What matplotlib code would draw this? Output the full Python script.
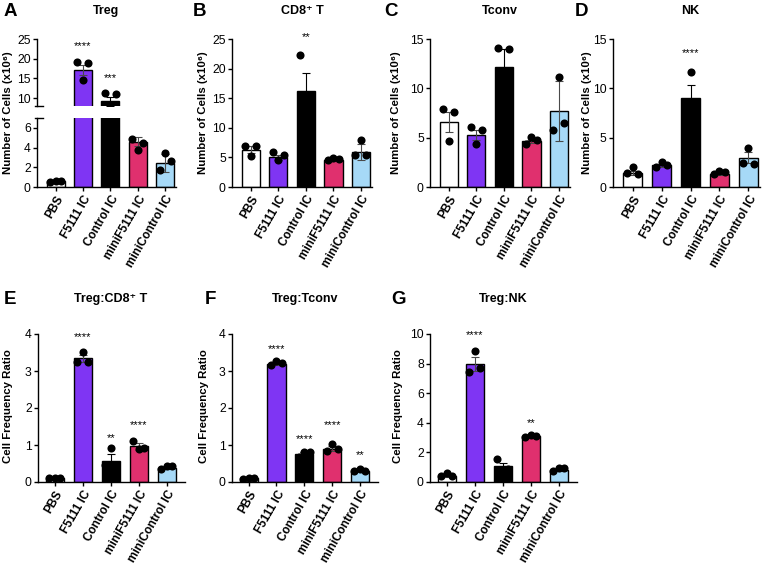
import numpy as np
import matplotlib
matplotlib.use("Agg")
import matplotlib.pyplot as plt
from matplotlib.lines import Line2D

plt.rcParams['font.family'] = ['Liberation Sans', 'DejaVu Sans']

groups = ["PBS", "F5111 IC", "Control IC", "miniF5111 IC", "miniControl IC"]
bar_colors = ["#ffffff", "#7f35f3", "#000000", "#e0306e", "#a6d9f7"]

# values: bar = mean, err = SEM, pts = individual mice
treg_mean = [0.6, 17.2, 9.2, 4.6, 2.4]
treg_err = [0.05, 1.3, 1.1, 0.45, 0.9]
treg_pts = [[0.5, 0.65, 0.6], [19.2, 19.0, 14.5], [11.3, 11.0, 5.3], [4.9, 4.5, 3.8], [1.7, 2.65, 3.4]]

cd8_mean = [6.3, 5.0, 16.3, 4.5, 5.9]
cd8_err = [0.55, 0.4, 3.0, 0.15, 1.4]
cd8_pts = [[7.0, 7.0, 5.3], [5.9, 5.4, 4.6], [22.3, 14.0, 12.6], [4.5, 4.7, 4.9], [5.4, 5.4, 8.0]]

tconv_mean = [6.6, 5.3, 12.2, 4.65, 7.7]
tconv_err = [1.0, 0.5, 1.8, 0.15, 3.0]
tconv_pts = [[7.9, 7.6, 4.7], [6.1, 5.8, 4.4], [14.1, 14.0, 8.5], [4.4, 4.8, 5.1], [5.8, 6.45, 11.1]]

nk_mean = [1.42, 2.2, 9.0, 1.35, 2.97]
nk_err = [0.2, 0.15, 1.35, 0.1, 0.55]
nk_pts = [[1.4, 1.35, 2.0], [2.0, 2.2, 2.5], [7.6, 7.8, 11.7], [1.3, 1.5, 1.6], [2.4, 2.35, 3.97]]

cd8_ratio_mean = [0.11, 3.34, 0.58, 0.96, 0.38]
cd8_ratio_err = [0.01, 0.1, 0.17, 0.1, 0.03]
cd8_ratio_pts = [[0.1, 0.12, 0.12], [3.25, 3.25, 3.52], [0.45, 0.37, 0.92], [1.1, 0.93, 0.9], [0.35, 0.42, 0.44]]

tconv_ratio_mean = [0.1, 3.2, 0.76, 0.9, 0.31]
tconv_ratio_err = [0.01, 0.03, 0.04, 0.06, 0.02]
tconv_ratio_pts = [[0.09, 0.1, 0.11], [3.17, 3.22, 3.26], [0.68, 0.8, 0.82], [0.85, 0.88, 1.02], [0.29, 0.31, 0.34]]

nk_ratio_mean = [0.43, 7.95, 1.06, 3.08, 0.83]
nk_ratio_err = [0.06, 0.48, 0.24, 0.03, 0.07]
nk_ratio_pts = [[0.4, 0.42, 0.58], [7.46, 7.7, 8.85], [1.55, 0.85, 0.78], [3.05, 3.12, 3.15], [0.72, 0.94, 0.94]]

W, H = 768, 565
fig = plt.figure(figsize=(W / 100, H / 100), dpi=100)
offsets = [-0.2, 0.2, 0.0]
x = np.arange(len(groups))


def px_axes(l, r, t, b):
    return fig.add_axes([l / W, 1 - b / H, (r - l) / W, (b - t) / H])


def style(ax, xl):
    for s in ["top", "right"]:
        ax.spines[s].set_visible(False)
    for s in ["left", "bottom"]:
        ax.spines[s].set_linewidth(1.0)
    ax.tick_params(direction="out", length=3, width=1.0, labelsize=8.7, pad=1.5)
    ax.set_xlim(*xl)
    ax.set_xticks(x)
    ax.set_xticklabels(groups, rotation=60, ha="right", rotation_mode="anchor",
                       fontweight="bold", fontsize=8.5)


def draw(ax, mean, err, pts):
    ax.bar(x, mean, width=0.66, color=bar_colors, edgecolor="black", linewidth=1.0, zorder=2)
    for i in range(len(groups)):
        ec = "black" if bar_colors[i] == "#000000" else "#4a4a4a"
        ax.errorbar(x[i], mean[i], yerr=err[i], fmt="none", ecolor=ec,
                    elinewidth=0.8, capsize=3.2, capthick=0.8, zorder=3)
        ax.scatter(x[i] + np.array(offsets), pts[i], s=34, color="black", zorder=4, linewidths=0)


def stars(ax, marks):
    for i, yv, s in marks:
        ax.text(i, yv, s, ha="center", va="center", fontsize=8)


def label(xp, yp, s):
    fig.text(xp / W, 1 - yp / H, s, rotation=90, ha="center", va="center",
             fontweight="bold", fontsize=8.2)


def title(xp, yp, s, letter, lx):
    fig.text(xp / W, 1 - yp / H, s, ha="center", va="center", fontweight="bold", fontsize=9)
    fig.text(lx / W, 1 - yp / H, letter, ha="center", va="center", fontweight="bold", fontsize=13.5)


top_xl = (-0.68, 4.4)
bot_xl = (-0.6, 4.65)

# A - broken axis
axA_hi = px_axes(37, 176, 39, 106)
axA_lo = px_axes(37, 176, 118, 187)
for ax in (axA_hi, axA_lo):
    style(ax, top_xl)
    draw(ax, treg_mean, treg_err, treg_pts)
axA_hi.set_ylim(8, 25)
axA_hi.set_yticks([10, 15, 20, 25])
axA_hi.spines["bottom"].set_visible(False)
axA_hi.tick_params(axis="x", bottom=False, labelbottom=False)
axA_lo.set_ylim(0, 7)
axA_lo.set_yticks([0, 2, 4, 6])
stars(axA_hi, [(1, 23.3, "****"), (2, 15.0, "***")])
for yp in (106, 118):
    fig.add_artist(Line2D([35 / W, 43 / W], [1 - yp / H, 1 - yp / H], color="black", lw=1.0))
label(8, 113, "Number of Cells (x10⁶)")
title(106, 11, "Treg", "A", 10)

# B
axB = px_axes(232, 372, 39, 187)
style(axB, top_xl)
draw(axB, cd8_mean, cd8_err, cd8_pts)
axB.set_ylim(0, 25)
axB.set_yticks([0, 5, 10, 15, 20, 25])
stars(axB, [(2, 25.3, "**")])
label(203, 113, "Number of Cells (x10⁶)")
title(302, 11, "CD8⁺ T", "B", 199)

# C
axC = px_axes(430, 570, 39, 187)
style(axC, top_xl)
draw(axC, tconv_mean, tconv_err, tconv_pts)
axC.set_ylim(0, 15)
axC.set_yticks([0, 5, 10, 15])
label(396, 113, "Number of Cells (x10⁶)")
title(500, 11, "Tconv", "C", 391)

# D
axD = px_axes(613, 760, 39, 187)
style(axD, top_xl)
draw(axD, nk_mean, nk_err, nk_pts)
axD.set_ylim(0, 15)
axD.set_yticks([0, 5, 10, 15])
stars(axD, [(2, 13.6, "****")])
label(587, 113, "Number of Cells (x10⁶)")
title(690, 11, "NK", "D", 581)

# E
axE = px_axes(38, 185, 334, 482)
style(axE, bot_xl)
draw(axE, cd8_ratio_mean, cd8_ratio_err, cd8_ratio_pts)
axE.set_ylim(0, 4)
axE.set_yticks([0, 1, 2, 3, 4])
stars(axE, [(1, 3.93, "****"), (2, 1.2, "**"), (3, 1.55, "****")])
label(8, 406, "Cell Frequency Ratio")
title(111, 299, "Treg:CD8⁺ T", "E", 10)

# F
axF = px_axes(232, 378, 334, 482)
style(axF, bot_xl)
draw(axF, tconv_ratio_mean, tconv_ratio_err, tconv_ratio_pts)
axF.set_ylim(0, 4)
axF.set_yticks([0, 1, 2, 3, 4])
stars(axF, [(1, 3.6, "****"), (2, 1.15, "****"), (3, 1.53, "****"), (4, 0.72, "**")])
label(204, 406, "Cell Frequency Ratio")
title(305, 299, "Treg:Tconv", "F", 210)

# G
axG = px_axes(430, 577, 334, 482)
style(axG, bot_xl)
draw(axG, nk_ratio_mean, nk_ratio_err, nk_ratio_pts)
axG.set_ylim(0, 10)
axG.set_yticks([0, 2, 4, 6, 8, 10])
stars(axG, [(1, 9.95, "****"), (3, 3.95, "**")])
label(398, 406, "Cell Frequency Ratio")
title(503, 299, "Treg:NK", "G", 398)

fig.savefig("out.png", dpi=100)
